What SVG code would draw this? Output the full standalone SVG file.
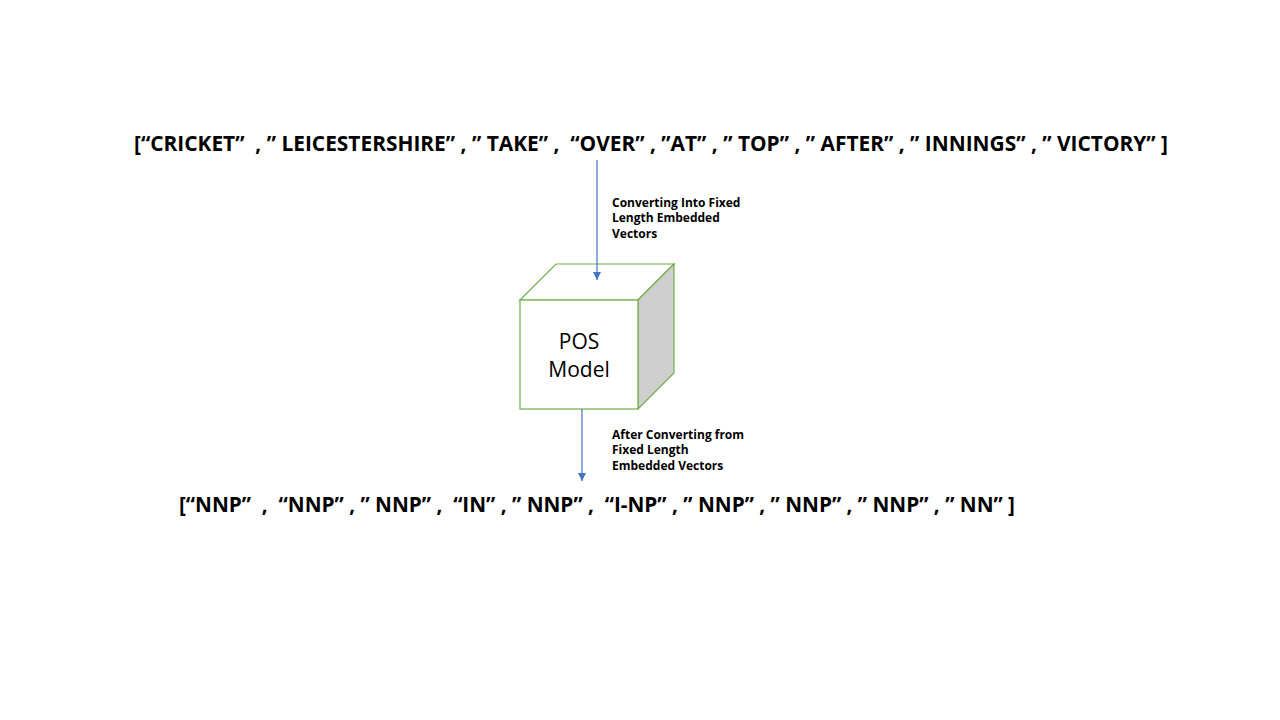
<svg xmlns="http://www.w3.org/2000/svg" width="1280" height="720" viewBox="0 0 1280 720">
<defs>
<style>
.big{font-family:"Open Sans","Noto Sans",sans-serif;font-weight:bold;font-size:21px;fill:#000}
.lbl{font-family:"Open Sans","Noto Sans",sans-serif;font-weight:bold;font-size:12px;fill:#000}
.node{font-family:"Open Sans","Noto Sans",sans-serif;font-size:21px;fill:#000}
.edge{stroke:#4472c4;stroke-width:1.2;fill:none}
.cube{stroke:#70ad47;stroke-width:1.2}
</style>
<marker id="ah" viewBox="0 0 10 10" refX="10" refY="5" markerWidth="8" markerHeight="8" markerUnits="userSpaceOnUse" orient="auto">
<path d="M0,0 L10,5 L0,10 z" fill="#4472c4"/>
</marker>
</defs>
<rect width="1280" height="720" fill="#fff"/>
<g id="input-text">
<text class="big" x="134" y="151" textLength="1034" lengthAdjust="spacingAndGlyphs" xml:space="preserve">[“CRICKET”  , ” LEICESTERSHIRE” , ” TAKE” ,  “OVER” , ”AT” , ” TOP” , ” AFTER” , ” INNINGS” , ” VICTORY” ]</text>
</g>
<g id="pos-model">
<polygon class="cube" points="520,300 556,264 674,264 638,300" fill="#fff"/>
<polygon class="cube" points="638,300 674,264 674,373 638,409" fill="#cfcfcf"/>
<rect class="cube" x="520" y="300" width="118" height="109" fill="#fff"/>
<text class="node" x="579" y="349" text-anchor="middle">POS</text>
<text class="node" x="579" y="377" text-anchor="middle">Model</text>
</g>
<g id="output-text">
<text class="big" x="179" y="512" textLength="836" lengthAdjust="spacingAndGlyphs" xml:space="preserve">[“NNP”  ,  “NNP” , ” NNP” ,  “IN” , ” NNP” ,  “I-NP” , ” NNP” , ” NNP” , ” NNP” , ” NN” ]</text>
</g>
<g id="connectors">
<line class="edge" x1="597" y1="160" x2="597" y2="280" marker-end="url(#ah)"/>
<line class="edge" x1="582" y1="409" x2="582" y2="481" marker-end="url(#ah)"/>
</g>
<g id="labels">
<text class="lbl" x="612" y="207">Converting Into Fixed</text>
<text class="lbl" x="612" y="222">Length Embedded</text>
<text class="lbl" x="612" y="238">Vectors</text>
<text class="lbl" x="612" y="439">After Converting from</text>
<text class="lbl" x="612" y="454">Fixed Length</text>
<text class="lbl" x="612" y="470">Embedded Vectors</text>
</g>
</svg>
